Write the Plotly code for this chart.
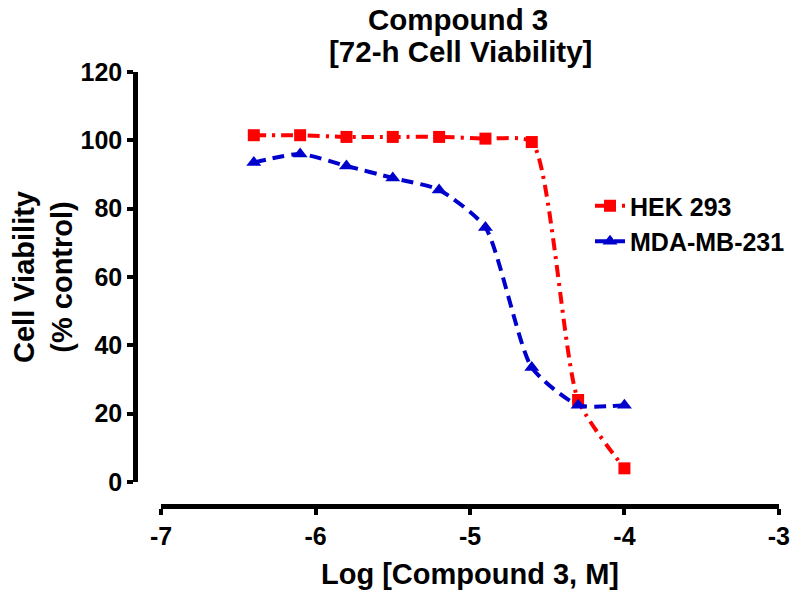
import plotly.graph_objects as go

log_conc = [-6.4, -6.1, -5.8, -5.5, -5.2, -4.9, -4.6, -4.3, -4.0]
hek293 = [101.5, 101.5, 101.0, 101.0, 101.0, 100.5, 99.5, 24.0, 4.0]
mda_mb_231 = [93.5, 96.0, 92.5, 89.0, 85.5, 74.5, 33.5, 22.5, 22.5]
x_ticks = [-7, -6, -5, -4, -3]
x_tick_text = ["-7", "-6", "-5", "-4", "-3"]
y_ticks = [0, 20, 40, 60, 80, 100, 120]

FONT = "Liberation Sans, Arial, sans-serif"

fig = go.Figure()
fig.add_trace(go.Scatter(
    x=log_conc, y=hek293, name="HEK 293", mode="lines+markers",
    line=dict(color="#ff0000", width=4, dash="12px,6px,3px,6px", shape="spline", smoothing=0.6),
    marker=dict(symbol="square", size=12, color="#ff0000"),
))
fig.add_trace(go.Scatter(
    x=log_conc, y=mda_mb_231, name="MDA-MB-231", mode="lines+markers",
    line=dict(color="#0000cc", width=4, dash="12px,7px", shape="spline", smoothing=0.6),
    marker=dict(symbol="triangle-up", size=13, color="#0000cc"),
))

OFF = 8  # page body margin offset
L, R, T, B = 110, 5, 40, 60
W, H = 800 - OFF, 598 - 2 * OFF
pw, ph = W - L - R, H - T - B
def fx(px):
    return (px - OFF - L) / pw
def fy(py):
    return (H - B - (py - OFF)) / ph

fig.update_layout(
    width=W, height=H,
    margin=dict(l=L, r=R, t=T, b=B, autoexpand=False),
    plot_bgcolor="white", paper_bgcolor="white",
    font=dict(family=FONT, color="black", size=25),
    xaxis=dict(
        domain=[fx(161), fx(779)], range=[-7.001, -2.999], anchor="free", position=fy(506),
        tickvals=x_ticks, ticktext=x_tick_text, ticks="outside", ticklen=6, tickwidth=4, tickcolor="black",
        showline=True, linewidth=4.5, linecolor="black", showgrid=False, zeroline=False,
        automargin=False,
        tickfont=dict(size=25, family=FONT, weight="bold"),
        title=dict(text="<b>Log [Compound 3, M]</b>", font=dict(size=29, family=FONT), standoff=14),
    ),
    yaxis=dict(
        domain=[fy(482), fy(72)], range=[0, 120], anchor="free", position=fx(135),
        tickvals=y_ticks, ticks="outside", ticklen=6, tickwidth=4, tickcolor="black",
        showline=True, linewidth=4.5, linecolor="black", showgrid=False, zeroline=False,
        automargin=False,
        tickfont=dict(size=25, family=FONT, weight="bold"),
        title=dict(text="<b>Cell Viability<br>(% control)</b>", font=dict(size=29, family=FONT), standoff=8),
    ),
    legend=dict(x=fx(590), y=fy(183), xanchor="left", yanchor="top",
                font=dict(size=25, family=FONT, weight="bold"),
                bgcolor="rgba(0,0,0,0)", itemwidth=30, tracegroupgap=0),
    showlegend=True,
    annotations=[
        dict(text="<b>Compound 3</b>", x=fx(458), y=fy(20), xref="paper", yref="paper",
             xanchor="center", yanchor="middle", showarrow=False, font=dict(size=29.5, family=FONT)),
        dict(text="<b>[72-h Cell Viability]</b>", x=fx(460), y=fy(52), xref="paper", yref="paper",
             xanchor="center", yanchor="middle", showarrow=False, font=dict(size=29.5, family=FONT)),
    ],
)

fig.write_html("out.html")
